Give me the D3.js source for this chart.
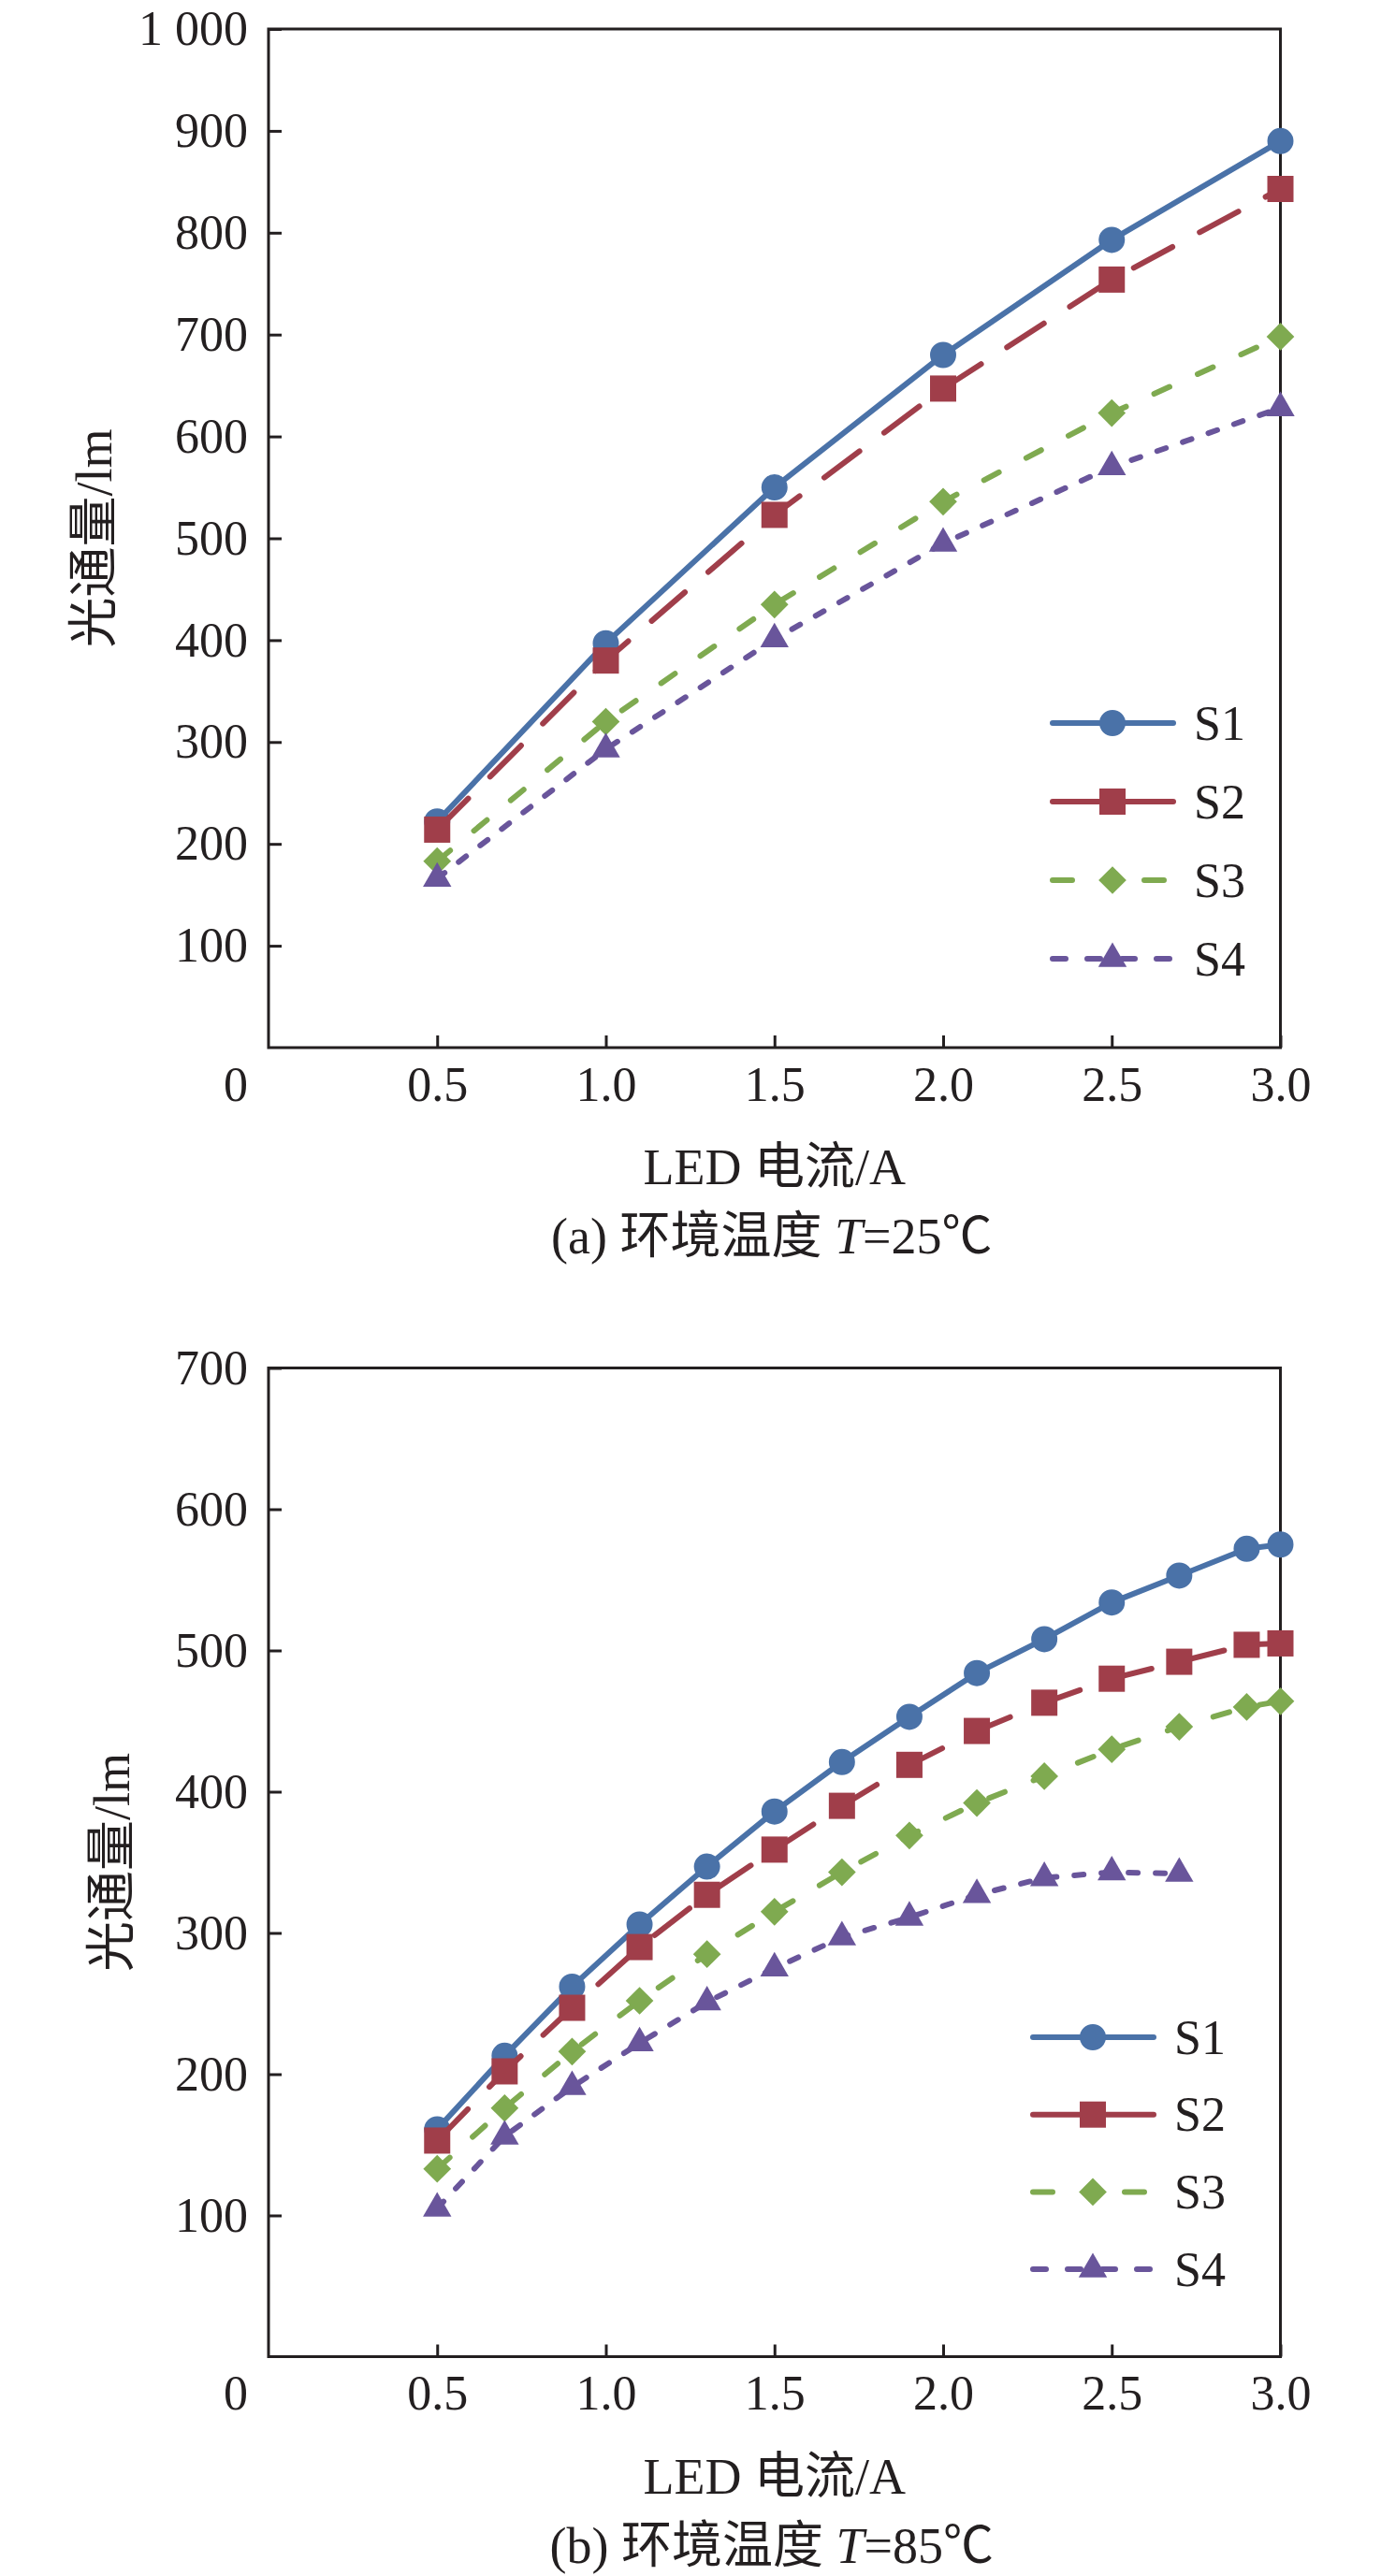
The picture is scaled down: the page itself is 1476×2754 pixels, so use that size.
<!DOCTYPE html>
<html>
<head>
<meta charset="utf-8">
<script src="https://cdn.jsdelivr.net/npm/d3@7"></script>
<style>
    html, body { margin: 0; padding: 0; background: #fff; }
    svg text { font-family: "Liberation Serif", "Times New Roman", "Noto Sans CJK SC", serif; fill: #231f20; }
</style>
</head>
<body>
<svg id="chart" width="1476" height="2754"></svg>
<script>
// ---- data ----
const seriesNames = ['S1', 'S2', 'S3', 'S4']

// (a) T = 25 C
const currentA = [0.5, 1.0, 1.5, 2.0, 2.5, 3.0]
const s1A = [222, 397, 550, 680, 793, 890]
const s2A = [214, 380, 523, 647, 754, 843]
const s3A = [183, 320, 435, 536, 623, 698]
const s4A = [166, 293, 401, 495, 570, 628]
const yTicksA = [100, 200, 300, 400, 500, 600, 700, 800, 900, 1000]

// (b) T = 85 C
const currentB = [0.5, 0.7, 0.9, 1.1, 1.3, 1.5, 1.7, 1.9, 2.1, 2.3, 2.5, 2.7, 2.9, 3.0]
const s1B = [161, 213, 262, 306, 347, 386, 421, 453, 484, 508, 534, 553, 572, 575]
const s2B = [153, 202, 247, 290, 327, 359, 390, 419, 443, 463, 480, 492, 504, 505]
const s3B = [133, 176, 216, 252, 285, 315, 343, 369, 392, 411, 430, 446, 460, 464]
const s4B = [105, 156, 191, 222, 251, 275, 297, 311, 327, 339, 343, 342]
const yTicksB = [100, 200, 300, 400, 500, 600, 700]

const xTicks = [0.5, 1.0, 1.5, 2.0, 2.5, 3.0]
const xLabel = 'LED 电流/A'
const yLabel = '光通量/lm'

// ---- styles ----
const STROKE_COLOR = '#231f20'
const LINE_WIDTH = 6
const seriesStyle = [
    { color: '#4a72a8', dash: null, legendDash: null, shape: 'circle' },
    { color: '#a03e4a', dash: '47,33', legendDash: null, shape: 'square' },
    { color: '#7faa50', dash: '18,33', legendDash: '21,77', shape: 'diamond' },
    { color: '#69559b', dash: '10,19', legendDash: '14,23', shape: 'triangle' }
]

const markerPath = shape => {
    if (shape === 'circle') return d3.symbol(d3.symbolCircle, 615)()
    if (shape === 'square') return d3.symbol(d3.symbolSquare, 784)()
    if (shape === 'diamond') return d3.symbol(d3.symbolSquare, 441)()
    return d3.symbol(d3.symbolTriangle, 400)()
}
const markerRotate = shape => shape === 'diamond' ? ' rotate(45)' : ''

const svg = d3.select('#chart')
svg.append('rect').attr('width', 1476).attr('height', 2754).attr('fill', '#fff')

const fmtY = v => v >= 1000 ? d3.format(',')(v).replace(',', ' ') : String(v)

const drawPanel = cfg => {
    const x = d3.scaleLinear().domain([0, 3]).range([287, 1368.5])
    const y = d3.scaleLinear().domain([0, cfg.yMax]).range([cfg.bottom, cfg.top])
    const g = svg.append('g')

    // left axis, inward ticks
    const yAxis = g.append('g')
        .attr('transform', `translate(${x(0)},0)`)
        .call(d3.axisLeft(y).tickValues(cfg.yTicks).tickFormat(fmtY)
            .tickSizeInner(-14).tickSizeOuter(0).tickPadding(22))
    // bottom axis, inward ticks
    const xAxis = g.append('g')
        .attr('transform', `translate(0,${y(0)})`)
        .call(d3.axisBottom(x).tickValues(xTicks).tickFormat(d3.format('.1f'))
            .tickSizeInner(-13).tickSizeOuter(0).tickPadding(20))

    ;[yAxis, xAxis].forEach(ax => {
        ax.select('.domain').remove()
        ax.selectAll('line').attr('stroke', STROKE_COLOR).attr('stroke-width', 3)
        ax.selectAll('text').attr('font-size', 52).attr('fill', STROKE_COLOR)
            .style('font-family', '"Liberation Serif", "Times New Roman", serif')
    })

    // shared origin label
    g.append('text')
        .attr('x', x(0) - 35)
        .attr('y', y(0) + 20)
        .attr('dy', '0.71em')
        .attr('text-anchor', 'middle')
        .attr('font-size', 52)
        .text('0')

    // frame
    g.append('rect')
        .attr('x', x(0)).attr('y', y(cfg.yMax))
        .attr('width', x(3) - x(0)).attr('height', y(0) - y(cfg.yMax))
        .attr('fill', 'none')
        .attr('stroke', STROKE_COLOR)
        .attr('stroke-width', 3)

    // series
    const line = d3.line().x(d => x(d[0])).y(d => y(d[1]))
    cfg.series.forEach((vals, i) => {
        const st = seriesStyle[i]
        const pts = vals.map((v, j) => [cfg.current[j], v])
        g.append('path')
            .attr('class', 'series-line')
            .attr('d', line(pts))
            .attr('fill', 'none')
            .attr('stroke', st.color)
            .attr('stroke-width', LINE_WIDTH)
            .attr('stroke-linecap', 'round')
            .attr('stroke-linejoin', 'round')
            .attr('stroke-dasharray', st.dash)
        g.append('g').selectAll('path')
            .data(pts)
            .join('path')
            .attr('d', markerPath(st.shape))
            .attr('transform', d => `translate(${x(d[0])},${y(d[1])})${markerRotate(st.shape)}`)
            .attr('fill', st.color)
    })

    // legend
    const lg = g.append('g').attr('transform', `translate(${cfg.legend[0]},${cfg.legend[1]})`)
    seriesNames.forEach((name, i) => {
        const st = seriesStyle[i]
        const row = lg.append('g').attr('transform', `translate(0,${i * cfg.legendStep})`)
        row.append('line')
            .attr('x1', 3).attr('x2', 132)
            .attr('stroke', st.color)
            .attr('stroke-width', LINE_WIDTH)
            .attr('stroke-linecap', 'round')
            .attr('stroke-dasharray', st.legendDash)
        row.append('path')
            .attr('d', markerPath(st.shape))
            .attr('transform', `translate(67,0)${markerRotate(st.shape)}`)
            .attr('fill', st.color)
        row.append('text')
            .attr('x', 154)
            .attr('dy', '0.34em')
            .attr('font-size', 52)
            .text(name)
    })

    // axis titles
    g.append('text')
        .attr('transform', `translate(${cfg.yLabelX},${(y(0) + y(cfg.yMax)) / 2}) rotate(-90)`)
        .attr('text-anchor', 'middle')
        .attr('dy', '0.36em')
        .attr('font-size', 54)
        .text(yLabel)

    g.append('text')
        .attr('x', (x(0) + x(3)) / 2)
        .attr('y', y(0) + 146)
        .attr('text-anchor', 'middle')
        .attr('font-size', 54)
        .text(xLabel)

    const cap = g.append('text')
        .attr('x', (x(0) + x(3)) / 2 - 3)
        .attr('y', y(0) + 220)
        .attr('text-anchor', 'middle')
        .attr('font-size', 54)
    cap.append('tspan').text(`(${cfg.tag}) 环境温度 `)
    cap.append('tspan').attr('font-style', 'italic').text('T')
    cap.append('tspan').text(`=${cfg.temp}℃`)
}

drawPanel({
    current: currentA, series: [s1A, s2A, s3A, s4A], yTicks: yTicksA, yMax: 1000,
    top: 31, bottom: 1120, legend: [1122, 773], legendStep: 84, yLabelX: 100,
    tag: 'a', temp: 25
})
drawPanel({
    current: currentB, series: [s1B, s2B, s3B, s4B], yTicks: yTicksB, yMax: 700,
    top: 1462.5, bottom: 2519.5, legend: [1101, 2178], legendStep: 82.7, yLabelX: 119,
    tag: 'b', temp: 85
})
</script>
</body>
</html>
